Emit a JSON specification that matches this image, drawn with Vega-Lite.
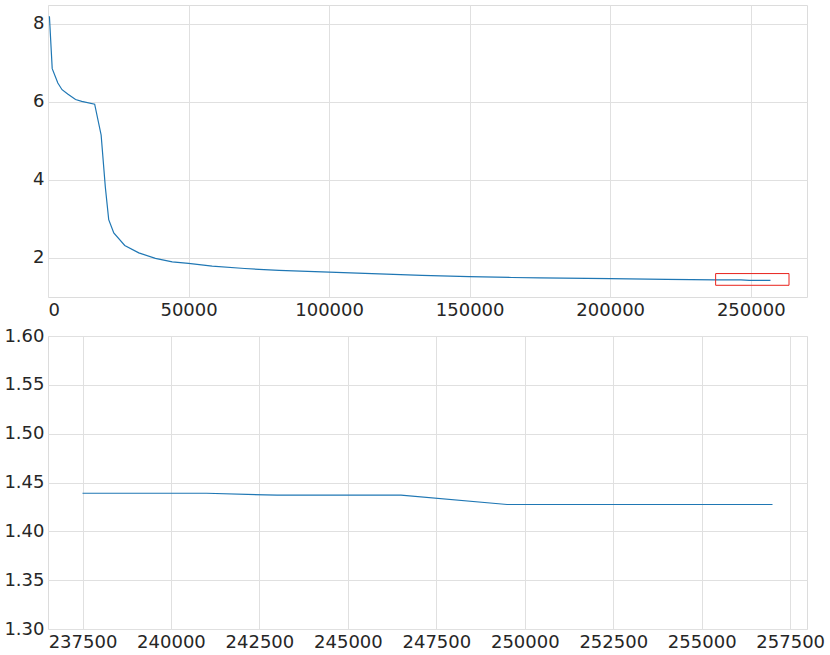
{
  "$schema": "https://vega.github.io/schema/vega-lite/v6.json",
  "background": "white",
  "padding": {"left": 3, "top": 4, "right": 5, "bottom": 5},
  "spacing": 6,
  "datasets": {
    "loss": [
      {"step": 500, "loss": 8.19},
      {"step": 1500, "loss": 6.85},
      {"step": 3500, "loss": 6.48},
      {"step": 5000, "loss": 6.31},
      {"step": 7000, "loss": 6.2},
      {"step": 9800, "loss": 6.06},
      {"step": 12000, "loss": 6.01},
      {"step": 16600, "loss": 5.94},
      {"step": 18900, "loss": 5.15},
      {"step": 20400, "loss": 3.81},
      {"step": 21600, "loss": 2.98},
      {"step": 23400, "loss": 2.64},
      {"step": 27300, "loss": 2.32},
      {"step": 32300, "loss": 2.13},
      {"step": 38200, "loss": 1.99},
      {"step": 44200, "loss": 1.9},
      {"step": 50000, "loss": 1.86},
      {"step": 58400, "loss": 1.79},
      {"step": 70000, "loss": 1.73},
      {"step": 82200, "loss": 1.68},
      {"step": 100000, "loss": 1.635},
      {"step": 117800, "loss": 1.59},
      {"step": 133000, "loss": 1.555},
      {"step": 149800, "loss": 1.52},
      {"step": 165000, "loss": 1.5},
      {"step": 175000, "loss": 1.49},
      {"step": 200000, "loss": 1.47},
      {"step": 220000, "loss": 1.45},
      {"step": 237500, "loss": 1.439},
      {"step": 241000, "loss": 1.439},
      {"step": 243000, "loss": 1.437},
      {"step": 246500, "loss": 1.437},
      {"step": 249500, "loss": 1.4275},
      {"step": 257000, "loss": 1.4275}
    ],
    "zoombox": [
      {"x1": 237500, "x2": 263600, "y1": 1.3, "y2": 1.6}
    ]
  },
  "config": {
    "view": {"stroke": "#dcdcdc", "strokeWidth": 1},
    "axis": {
      "labelFont": "DejaVu Sans",
      "labelFontSize": 18,
      "labelColor": "#262626",
      "ticks": false,
      "domain": false,
      "grid": true,
      "gridColor": "#e0e0e0",
      "gridWidth": 1,
      "labelPadding": 4,
      "title": null
    }
  },
  "vconcat": [
    {
      "width": 759,
      "height": 292,
      "layer": [
        {
          "data": {"name": "loss"},
          "mark": {"type": "line", "color": "#1f77b4", "strokeWidth": 1.2},
          "encoding": {
            "x": {"field": "step", "type": "quantitative", "scale": {"domain": [0, 270000], "nice": false, "zero": false},
                  "axis": {"values": [0, 50000, 100000, 150000, 200000, 250000], "format": "d"}},
            "y": {"field": "loss", "type": "quantitative", "scale": {"domain": [1.0, 8.48], "nice": false, "zero": false},
                  "axis": {"values": [2, 4, 6, 8], "format": "d"}}
          }
        },
        {
          "data": {"name": "zoombox"},
          "mark": {"type": "rect", "fill": null, "fillOpacity": 0, "stroke": "#e8221c", "strokeWidth": 1},
          "encoding": {
            "x": {"field": "x1", "type": "quantitative"},
            "x2": {"field": "x2"},
            "y": {"field": "y1", "type": "quantitative"},
            "y2": {"field": "y2"}
          }
        }
      ]
    },
    {
      "width": 759,
      "height": 293,
      "data": {"name": "loss"},
      "transform": [{"filter": "datum.step >= 237500"}],
      "mark": {"type": "line", "color": "#1f77b4", "strokeWidth": 1.2},
      "encoding": {
        "x": {"field": "step", "type": "quantitative", "scale": {"domain": [236525, 257975], "nice": false, "zero": false},
              "axis": {"values": [237500, 240000, 242500, 245000, 247500, 250000, 252500, 255000, 257500], "format": "d"}},
        "y": {"field": "loss", "type": "quantitative", "scale": {"domain": [1.3, 1.6], "nice": false, "zero": false},
              "axis": {"values": [1.3, 1.35, 1.4, 1.45, 1.5, 1.55, 1.6], "format": ".2f"}}
      }
    }
  ]
}
